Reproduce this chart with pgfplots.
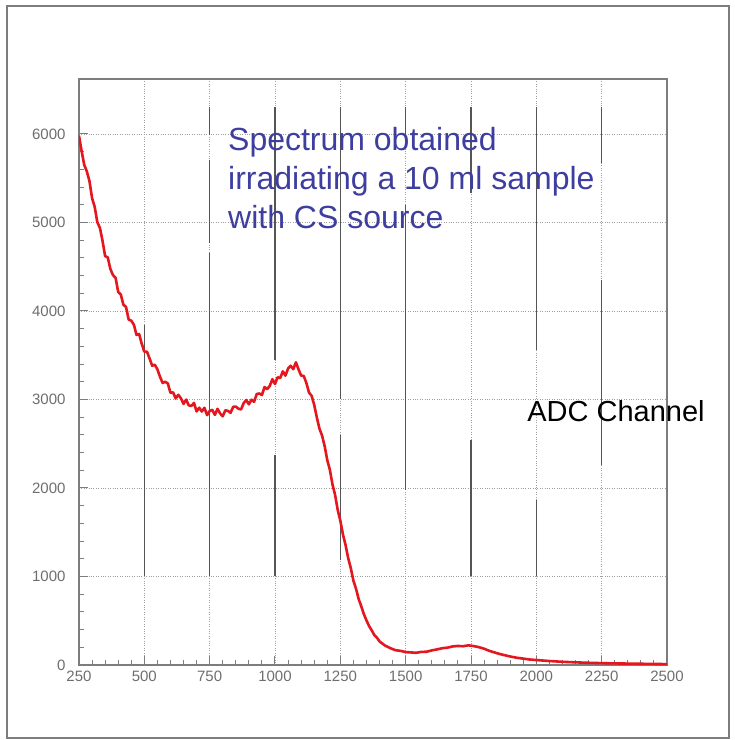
\documentclass[border=0pt]{standalone}
\usepackage{pgfplots}
\pgfplotsset{compat=1.18}
\usepackage{fontspec}
\setmainfont{Liberation Sans}
\definecolor{spec}{RGB}{228,22,30}
\definecolor{note}{RGB}{62,62,160}
\definecolor{framegray}{RGB}{125,125,125}
\definecolor{ticklbl}{RGB}{110,110,110}
\definecolor{bar}{RGB}{85,85,85}
\begin{document}
\begin{tikzpicture}[x=1pt,y=1pt]
% page and outer frame
\fill[white] (-79,-75) rectangle (656,665);
\draw[framegray, line width=1.8pt] (-72,-73) rectangle (650,659);
\begin{axis}[
  scale only axis, width=588pt, height=586pt,
  xmin=250, xmax=2500, ymin=0, ymax=6621,
  clip mode=individual,
  xtick={250,500,...,2500}, ytick={0,1000,...,6000},
  minor x tick num=4, minor y tick num=4,
  tick align=inside, tick pos=left,
  major tick length=9pt, minor tick length=5pt,
  axis line style={framegray, line width=1.3pt},
  every tick/.style={framegray, line width=1pt},
  grid=major,
  major grid style={dotted, gray!75, line width=0.8pt},
  ticklabel style={font=\fontsize{15}{15}\selectfont, text=ticklbl},
  /pgf/number format/assume math mode=true,
  /pgf/number format/1000 sep={},
  xticklabel shift=2pt, yticklabel shift=10pt,
]
% solid vertical strokes at the major channel ticks
\addplot[bar, line width=1.4pt, unbounded coords=jump] coordinates {
  (500,3840) (500,1000) (500,nan)
  (750,6300) (750,5990) (750,nan)
  (750,5710) (750,4770) (750,nan)
  (750,4650) (750,1000) (750,nan)
  (1000,6300) (1000,3450) (1000,nan)
  (1000,2370) (1000,1000) (1000,nan)
  (1250,6300) (1250,3000) (1250,nan)
  (1250,2600) (1250,1190) (1250,nan)
  (1500,6300) (1500,5930) (1500,nan)
  (1500,5200) (1500,1980) (1500,nan)
  (1750,6300) (1750,5330) (1750,nan)
  (1750,2540) (1750,1000) (1750,nan)
  (2000,6300) (2000,3560) (2000,nan)
  (2000,1860) (2000,1000) (2000,nan)
  (2250,6300) (2250,5670) (2250,nan)
  (2250,4350) (2250,2260)
};
% measured spectrum
\addplot[spec, line width=2.6pt, line join=round] coordinates {
(250,5980) (260,5808) (270,5651) (280,5576) (290,5468) (300,5275)
(310,5177) (320,5004) (330,4939) (340,4792) (350,4620) (360,4605)
(370,4475) (380,4405) (390,4375) (400,4215) (410,4185) (420,4070)
(430,4046) (440,3903) (450,3890) (460,3845) (470,3730) (480,3740)
(490,3630) (500,3540) (510,3540) (520,3465) (530,3381) (540,3393)
(550,3340) (560,3256) (570,3187) (580,3200) (590,3180) (600,3075)
(610,3081) (620,3012) (630,3053) (640,3014) (650,2950) (660,2999)
(670,2933) (680,2927) (690,2961) (700,2865) (710,2907) (720,2864)
(730,2906) (740,2823) (750,2870) (760,2883) (770,2826) (780,2894)
(790,2842) (800,2810) (810,2878) (820,2871) (830,2849) (840,2917)
(850,2920) (860,2896) (870,2887) (880,2958) (890,2994) (900,2945)
(910,2997) (920,2974) (930,3061) (940,3068) (950,3050) (960,3141)
(970,3117) (980,3153) (990,3229) (1000,3175) (1010,3251) (1020,3242)
(1030,3318) (1040,3269) (1050,3350) (1060,3381) (1070,3342) (1080,3420)
(1090,3340) (1100,3270) (1110,3266) (1120,3187) (1130,3079) (1140,3042)
(1150,2940) (1160,2798) (1170,2671) (1180,2593) (1190,2474) (1200,2315)
(1210,2205) (1220,2040) (1230,1920) (1240,1752) (1250,1630) (1260,1475)
(1270,1356) (1280,1208) (1290,1095) (1300,953) (1310,862) (1320,746)
(1330,665) (1340,575) (1350,504) (1360,440) (1370,392) (1380,338)
(1390,309) (1400,266) (1420,222) (1440,192) (1460,168) (1480,160)
(1500,146) (1520,142) (1540,138) (1560,148) (1580,150) (1600,165)
(1620,176) (1640,190) (1660,196) (1680,210) (1700,215) (1720,212)
(1740,222) (1760,214) (1780,202) (1800,184) (1820,160) (1840,142)
(1860,124) (1880,110) (1900,96) (1925,82) (1950,72) (1975,62)
(2000,56) (2050,45) (2100,36) (2150,30) (2200,25) (2250,21)
(2300,18) (2350,16) (2400,14) (2450,12) (2500,10)
};
\node[anchor=north west, inner sep=0, align=left, text=note,
      font=\fontsize{32}{39}\selectfont] at (axis cs:820,6079)
  {Spectrum obtained\\irradiating a 10 ml sample\\with CS source};
\node[anchor=base west, inner sep=0, font=\fontsize{29}{29}\selectfont]
  at (axis cs:1965,2746) {ADC Channel};
\end{axis}
\end{tikzpicture}
\end{document}
